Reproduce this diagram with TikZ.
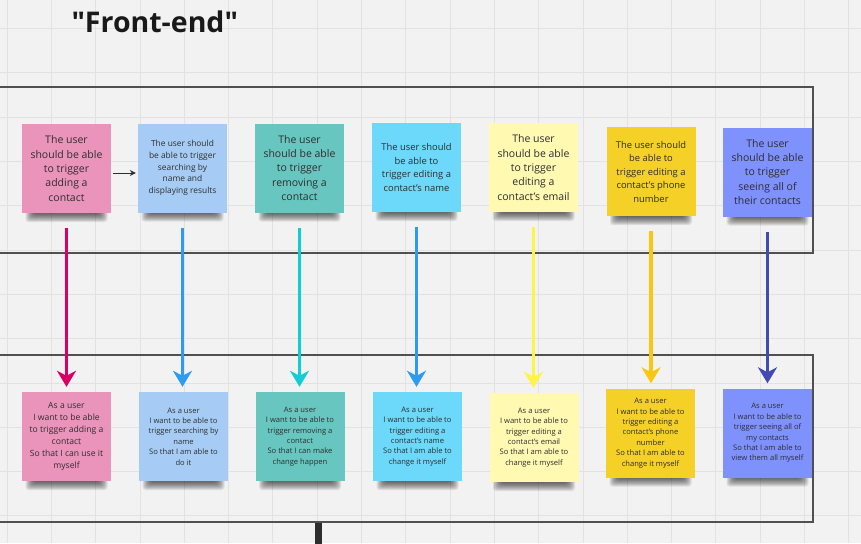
\documentclass[tikz,border=0pt]{standalone}
\usepackage{fontspec}
\setmainfont{Open Sans}[Ligatures=ResetAll]
\newfontfamily\titlefont{Open Sans}[Ligatures=ResetAll]
\usetikzlibrary{arrows.meta}
\definecolor{bg}{HTML}{F2F2F2}
\definecolor{gridc}{HTML}{E2E2E2}
\definecolor{framec}{HTML}{505050}
\definecolor{txt}{HTML}{2E2E2E}
\definecolor{npink}{HTML}{EA94BB}
\definecolor{nblue}{HTML}{A6CCF5}
\definecolor{nteal}{HTML}{67C6C0}
\definecolor{ncyan}{HTML}{6CD8FA}
\definecolor{nlyellow}{HTML}{FFF9B1}
\definecolor{nyellow}{HTML}{F5D128}
\definecolor{nviolet}{HTML}{7F91FD}
\definecolor{apink}{HTML}{DA0063}
\definecolor{ablue}{HTML}{2D9BF0}
\definecolor{acyan}{HTML}{12CDD4}
\definecolor{alyellow}{HTML}{FEF445}
\definecolor{ayellow}{HTML}{FAC710}
\definecolor{aviolet}{HTML}{414BB2}
\newcommand\mkshadow[2]{%
  \foreach \k in {0,...,8}{%
    \fill[black, opacity=0.085, rounded corners=3pt] ({#1-41+\k},{#2-8}) rectangle ({#1+41-\k},{#2+9-\k});
  }}
\begin{document}
\begin{tikzpicture}[x=1pt,y=-1pt,
  sticky/.style={inner sep=0pt, minimum width=89pt, minimum height=89pt, align=center, text=txt},
  fbig/.style={font=\fontsize{10.5}{14.3}\selectfont},
  fmid/.style={font=\fontsize{9.4}{13.5}\selectfont},
  fsmall/.style={font=\fontsize{8.4}{11.7}\selectfont},
  fb1/.style={font=\fontsize{8.6}{11.9}\selectfont},
  fbot/.style={font=\fontsize{7.6}{10.4}\selectfont},
  flow/.style={line width=3.3pt, -{Stealth[length=16pt,width=19pt,inset=5pt]}, shorten <=15pt, shorten >=5pt},
  framel/.style={draw=framec, line width=1.1pt}]
\useasboundingbox (0,0) rectangle (861,543);
\fill[bg] (0,0) rectangle (861,543);
\foreach \k in {0,...,19} \draw[gridc, line width=0.7pt] ({7+44.3*\k},0) -- ({7+44.3*\k},543);
\foreach \k in {0,...,11} \draw[gridc, line width=0.7pt] (0,{28.5+44.3*\k}) -- (861,{28.5+44.3*\k});

% frames
\draw[framel] (-5,87) -- (813,87) -- (813,253) -- (-5,253);
\draw[framel] (-5,355) -- (813,355) -- (813,522) -- (-5,522);
\draw[line width=7pt, draw=black!82] (318,522.5) -- (318,546);

% title
\node[anchor=base west, font=\titlefont\bfseries\fontsize{28.5}{34}\selectfont, text=black!90] (title) at (68,33) {"Front-end"};

% shadows
\mkshadow{66.5}{213}\mkshadow{182.5}{212.5}\mkshadow{299.5}{212.5}\mkshadow{416.5}{212}
\mkshadow{533.5}{212}\mkshadow{651}{216}\mkshadow{767.5}{216.5}
\mkshadow{66.5}{481}\mkshadow{183.5}{481}\mkshadow{300}{481}\mkshadow{417.5}{481}
\mkshadow{534}{482}\mkshadow{650.5}{477.5}\mkshadow{767.5}{477.5}

% top row
\node[sticky, fbig, fill=npink] (t1) at (66.5,168.5) {The user\\should be able\\to trigger\\adding a\\contact};
\node[sticky, fsmall, fill=nblue] (t2) at (182.5,168) {The user should\\be able to trigger\\searching by\\name and\\displaying results};
\node[sticky, fbig, fill=nteal] (t3) at (299.5,168) {The user\\should be able\\to trigger\\removing a\\contact};
\node[sticky, fmid, fill=ncyan] (t4) at (416.5,167.5) {The user should\\be able to\\trigger editing a\\contact's name};
\node[sticky, fbig, fill=nlyellow] (t5) at (533.5,167.5) {The user\\should be able\\to trigger\\editing a\\contact's email};
\node[sticky, fmid, fill=nyellow] (t6) at (651,171.5) {The user should\\be able to\\trigger editing a\\contact's phone\\number};
\node[sticky, fbig, fill=nviolet] (t7) at (767.5,172) {The user\\should be able\\to trigger\\seeing all of\\their contacts};

% bottom row
\node[sticky, fb1, fill=npink] (b1) at (66.5,436.5) {As a user\\I want to be able\\to trigger adding a\\contact\\So that I can use it\\myself};
\node[sticky, fbot, fill=nblue] (b2) at (183.5,436.5) {As a user\\I want to be able to\\trigger searching by\\name\\So that I am able to\\do it};
\node[sticky, fbot, fill=nteal] (b3) at (300,436.5) {As a user\\I want to be able to\\trigger removing a\\contact\\So that I can make\\change happen};
\node[sticky, fbot, fill=ncyan] (b4) at (417.5,436.5) {As a user\\I want to be able to\\trigger editing a\\contact's name\\So that I am able to\\change it myself};
\node[sticky, fbot, fill=nlyellow] (b5) at (534,437.5) {As a user\\I want to be able to\\trigger editing a\\contact's email\\So that I am able to\\change it myself};
\node[sticky, fbot, fill=nyellow] (b6) at (650.5,433) {As a user\\I want to be able to\\trigger editing a\\contact's phone\\number\\So that I am able to\\change it myself};
\node[sticky, fbot, fill=nviolet] (b7) at (767.5,433) {As a user\\I want to be able to\\trigger seeing all of\\my contacts\\So that I am able to\\view them all myself};

% connectors
\draw[line width=1pt, draw=txt, -{Stealth[length=6pt,width=6pt]}, shorten <=2pt, shorten >=2pt] ([yshift=-4.5pt]t1.east) -- ([yshift=-4.5pt]t1.east -| t2.west);
\draw[flow, apink] (t1.south) -- (t1.south |- b1.north);
\draw[flow, ablue] (t2.south) -- (t2.south |- b2.north);
\draw[flow, acyan] (t3.south) -- (t3.south |- b3.north);
\draw[flow, ablue] (t4.south) -- (t4.south |- b4.north);
\draw[flow, alyellow] (t5.south) -- (t5.south |- b5.north);
\draw[flow, ayellow] (t6.south) -- (t6.south |- b6.north);
\draw[flow, aviolet] (t7.south) -- (t7.south |- b7.north);
\end{tikzpicture}
\end{document}
